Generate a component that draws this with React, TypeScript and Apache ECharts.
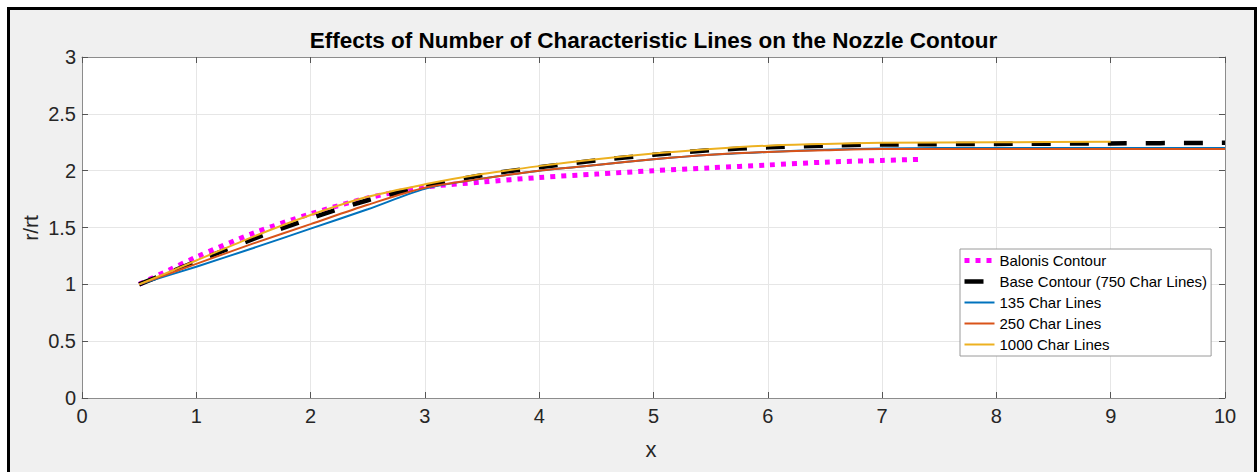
import React, { useEffect, useRef } from "react";
import * as echarts from "echarts";

const xTicks = [0, 1, 2, 3, 4, 5, 6, 7, 8, 9, 10];

const balonisX = [0.5, 0.75, 1, 1.5, 2, 2.5, 3, 3.5, 4, 4.5, 5, 5.5, 6, 6.5, 7, 7.35];
const balonisY = [1.0, 1.12, 1.24, 1.45, 1.62, 1.76, 1.855, 1.9, 1.94, 1.97, 2.0, 2.025, 2.05, 2.075, 2.09, 2.1];

const baseX = [0.5, 1, 1.5, 2, 2.5, 3, 3.5, 4, 4.5, 5, 5.5, 6, 6.5, 7, 8, 9, 10];
const baseY = [1.0, 1.2, 1.4, 1.58, 1.74, 1.86, 1.96, 2.03, 2.09, 2.14, 2.18, 2.205, 2.22, 2.23, 2.235, 2.24, 2.245];

const c135X = [0.5, 1, 1.5, 2, 2.5, 3, 3.5, 4, 4.5, 5, 5.5, 6, 6.5, 7, 8, 9, 10];
const c135Y = [1.0, 1.155, 1.32, 1.49, 1.66, 1.84, 1.93, 2.0, 2.05, 2.1, 2.14, 2.165, 2.185, 2.195, 2.2, 2.2, 2.2];

const c250X = [0.5, 1, 1.5, 2, 2.5, 3, 3.5, 4, 4.5, 5, 5.5, 6, 6.5, 7, 8, 9, 10];
const c250Y = [1.0, 1.18, 1.36, 1.53, 1.7, 1.85, 1.93, 2.0, 2.05, 2.1, 2.14, 2.165, 2.18, 2.19, 2.19, 2.19, 2.19];

const c1000X = [0.5, 1, 1.5, 2, 2.5, 3, 3.5, 4, 4.5, 5, 5.5, 6, 6.5, 7, 8, 9];
const c1000Y = [1.0, 1.21, 1.42, 1.61, 1.77, 1.88, 1.97, 2.04, 2.1, 2.15, 2.19, 2.22, 2.235, 2.245, 2.25, 2.255];

const zip = (xs: number[], ys: number[]) => xs.map((x, i) => [x, ys[i]]);

const FONT = 'Arial, "Liberation Sans", Helvetica, sans-serif';

export default function App() {
  const ref = useRef<HTMLDivElement>(null);
  useEffect(() => {
    document.body.style.margin = "0";
    const chart = echarts.init(ref.current!, undefined, { renderer: "svg" });
    const axisLineColor = "#8c8c8c";
    const labelStyle = { color: "#262626", fontSize: 20, fontFamily: FONT };
    chart.setOption({
      animation: false,
      backgroundColor: "#ffffff",
      graphic: [
        {
          type: "rect",
          z: -10,
          silent: true,
          shape: { x: 8.5, y: 8.5, width: 1247, height: 480 },
          style: { fill: "#f0f0f0", stroke: "#000000", lineWidth: 3 },
        },
        {
          type: "text",
          x: 653.5,
          y: 40,
          style: {
            text: "Effects of Number of Characteristic Lines on the Nozzle Contour",
            fill: "#000000",
            font: `bold 22.5px ${FONT}`,
            textAlign: "center",
            textVerticalAlign: "middle",
          },
        },
        {
          type: "text",
          x: 651,
          y: 449,
          style: {
            text: "x",
            fill: "#262626",
            font: `22px ${FONT}`,
            textAlign: "center",
            textVerticalAlign: "middle",
          },
        },
        {
          type: "text",
          x: 30,
          y: 228,
          rotation: Math.PI / 2,
          style: {
            text: "r/rt",
            fill: "#262626",
            font: `21px ${FONT}`,
            textAlign: "center",
            textVerticalAlign: "middle",
          },
        },
      ],
      grid: { left: 82, right: 34, top: 57, bottom: 74, show: true, backgroundColor: "#ffffff", borderWidth: 0 },
      legend: {
        orient: "vertical",
        left: 960,
        top: 249,
        backgroundColor: "#ffffff",
        borderColor: "#9a9a9a",
        borderWidth: 1,
        borderRadius: 0,
        padding: [3, 4, 3, 2],
        itemWidth: 30,
        itemHeight: 12,
        itemGap: 4,
        itemStyle: { opacity: 0 },
        lineStyle: { width: "inherit" },
        textStyle: { color: "#000000", fontSize: 15, fontFamily: FONT, lineHeight: 17 },
        data: ["Balonis Contour", "Base Contour (750 Char Lines)", "135 Char Lines", "250 Char Lines", "1000 Char Lines"],
      },
      xAxis: [
        {
          type: "value",
          min: 0,
          max: 10,
          interval: 1,
          data: xTicks,
          axisLine: { show: true, onZero: false, lineStyle: { color: axisLineColor, width: 1 } },
          axisTick: { show: true, inside: true, length: 6, lineStyle: { color: "#555" } },
          axisLabel: { ...labelStyle, margin: 8 },
          splitLine: { show: true, lineStyle: { color: "#e6e6e6", width: 1 } },
        },
        {
          type: "value",
          position: "top",
          min: 0,
          max: 10,
          interval: 1,
          axisLine: { show: true, onZero: false, lineStyle: { color: axisLineColor, width: 1 } },
          axisTick: { show: true, inside: true, length: 6, lineStyle: { color: "#555" } },
          axisLabel: { show: false },
          splitLine: { show: false },
        },
      ],
      yAxis: [
        {
          type: "value",
          min: 0,
          max: 3,
          interval: 0.5,
          axisLine: { show: true, onZero: false, lineStyle: { color: axisLineColor, width: 1 } },
          axisTick: { show: true, inside: true, length: 6, lineStyle: { color: "#555" } },
          axisLabel: { ...labelStyle, margin: 6 },
          splitLine: { show: true, lineStyle: { color: "#e6e6e6", width: 1 } },
        },
        {
          type: "value",
          position: "right",
          min: 0,
          max: 3,
          interval: 0.5,
          axisLine: { show: true, onZero: false, lineStyle: { color: axisLineColor, width: 1 } },
          axisTick: { show: true, inside: true, length: 6, lineStyle: { color: "#555" } },
          axisLabel: { show: false },
          splitLine: { show: false },
        },
      ],
      series: [
        {
          name: "Balonis Contour",
          type: "line",
          smooth: 0.3,
          symbol: "none",
          data: zip(balonisX, balonisY),
          itemStyle: { color: "#ff00ff" },
          lineStyle: { color: "#ff00ff", width: 5, type: [5, 6], cap: "butt" },
          z: 2,
        },
        {
          name: "Base Contour (750 Char Lines)",
          type: "line",
          smooth: 0.3,
          symbol: "none",
          data: zip(baseX, baseY),
          itemStyle: { color: "#000000" },
          lineStyle: { color: "#000000", width: 4.5, type: [19, 19], cap: "butt" },
          z: 3,
        },
        {
          name: "135 Char Lines",
          type: "line",
          smooth: 0.3,
          symbol: "none",
          data: zip(c135X, c135Y),
          itemStyle: { color: "#0072bd" },
          lineStyle: { color: "#0072bd", width: 2 },
          z: 4,
        },
        {
          name: "250 Char Lines",
          type: "line",
          smooth: 0.3,
          symbol: "none",
          data: zip(c250X, c250Y),
          itemStyle: { color: "#d95319" },
          lineStyle: { color: "#d95319", width: 2 },
          z: 5,
        },
        {
          name: "1000 Char Lines",
          type: "line",
          smooth: 0.3,
          symbol: "none",
          data: zip(c1000X, c1000Y),
          itemStyle: { color: "#edb120" },
          lineStyle: { color: "#edb120", width: 2 },
          z: 6,
        },
      ],
    });
    return () => chart.dispose();
  }, []);
  return <div ref={ref} style={{ width: 1259, height: 472 }} />;
}
